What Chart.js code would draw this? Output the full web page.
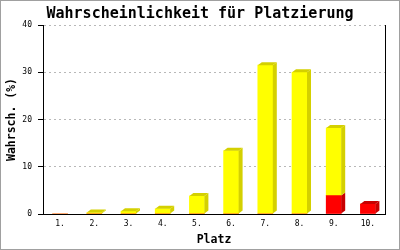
<!DOCTYPE html>
<html>
<head>
<meta charset="utf-8">
<script src="https://cdn.jsdelivr.net/npm/chart.js@4/dist/chart.umd.min.js"></script>
<style>
  html, body { margin: 0; padding: 0; background: #fff; }
</style>
</head>
<body>
<canvas id="chart" width="400" height="250"></canvas>
<script>
// Werte (Prozent)
const places = ['1.', '2.', '3.', '4.', '5.', '6.', '7.', '8.', '9.', '10.'];
const redPart = [0, 0, 0, 0, 0, 0, 0, 0, 3.9, 2.1];
const yellowPart = [0, 0.3, 0.6, 1.1, 3.8, 13.4, 31.5, 30.0, 14.3, 0];
const yTicks = [0, 10, 20, 30, 40];

const mono = 'DejaVu Sans Mono';
const depthX = 4, depthY = 3;

// 3D-Seiten und Deckflaechen an die Balken zeichnen
const extrude = {
    id: 'extrude',
    afterDatasetsDraw (chart) {
        let ctx = chart.ctx;
        let metas = chart.getSortedVisibleDatasetMetas();
        let n = chart.data.labels.length;

        for (let i = 0; i < n; i++) {
            let topIdx = -1;
            metas.forEach((meta, k) => {
                if (chart.data.datasets[meta.index].data[i] > 0) topIdx = k;
            });

            metas.forEach((meta, k) => {
                let ds = chart.data.datasets[meta.index];
                if (!(ds.data[i] > 0)) return;
                let bar = meta.data[i];
                let left = bar.x - bar.width / 2;
                let right = bar.x + bar.width / 2;
                let top = Math.min(bar.y, bar.base);
                let bottom = Math.max(bar.y, bar.base);

                ctx.save();
                ctx.fillStyle = ds.sideColor;
                ctx.beginPath();
                ctx.moveTo(right, top);
                ctx.lineTo(right + depthX, top - depthY);
                ctx.lineTo(right + depthX, bottom - depthY);
                ctx.lineTo(right, bottom);
                ctx.closePath();
                ctx.fill();

                if (k === topIdx) {
                    ctx.beginPath();
                    ctx.moveTo(left, top);
                    ctx.lineTo(left + depthX, top - depthY);
                    ctx.lineTo(right + depthX, top - depthY);
                    ctx.lineTo(right, top);
                    ctx.closePath();
                    ctx.fill();
                }
                ctx.restore();
            });
        }
    },
    afterDraw (chart) {
        let ctx = chart.ctx;
        let area = chart.chartArea;
        ctx.save();
        // rechter Rahmen
        ctx.strokeStyle = '#000';
        ctx.lineWidth = 1;
        ctx.beginPath();
        ctx.moveTo(Math.round(area.right) + 0.5, area.top);
        ctx.lineTo(Math.round(area.right) + 0.5, area.bottom + 0.5);
        ctx.stroke();
        // grauer Bildrand
        ctx.strokeStyle = '#a0a0a0';
        ctx.strokeRect(0.5, 0.5, chart.width - 1, chart.height - 1);
        ctx.restore();
    }
};

let chart = new Chart(document.getElementById('chart'), {
    type: 'bar',
    data: {
        labels: places,
        datasets: [
            {
                label: 'rot',
                data: redPart,
                backgroundColor: '#ff0000',
                sideColor: '#c80000',
                borderWidth: 0
            },
            {
                label: 'gelb',
                data: yellowPart,
                backgroundColor: '#ffff00',
                sideColor: '#d4d000',
                borderWidth: 0
            }
        ]
    },
    options: {
        responsive: false,
        animation: false,
        barThickness: 15,
        layout: {
            padding: 0
        },
        plugins: {
            legend: { display: false },
            tooltip: { enabled: false },
            title: {
                display: true,
                text: 'Wahrscheinlichkeit für Platzierung',
                color: '#000',
                font: { family: mono, size: 15, weight: 'bold' },
                padding: { top: 5, bottom: 2 }
            }
        },
        scales: {
            x: {
                stacked: true,
                grid: { display: false, drawTicks: false },
                border: { display: true, color: '#000', width: 1 },
                ticks: {
                    color: '#000',
                    font: { family: mono, size: 8 },
                    padding: 5,
                    maxRotation: 0,
                    autoSkip: false
                },
                title: {
                    display: true,
                    text: 'Platz',
                    color: '#000',
                    font: { family: mono, size: 11.5, weight: 'bold' },
                    padding: { top: 0, bottom: 3 }
                },
                afterFit: (scale) => { scale.height = 36; }
            },
            y: {
                stacked: true,
                min: yTicks[0],
                max: yTicks[yTicks.length - 1],
                afterBuildTicks: (scale) => { scale.ticks = yTicks.map(v => ({ value: v })); },
                grid: {
                    color: (c) => c.tick && c.tick.value === 0 ? 'rgba(0,0,0,0)' : '#b8b8b8',
                    tickColor: '#000',
                    tickLength: 5,
                    lineWidth: 1
                },
                border: { display: true, color: '#000', width: 1, dash: [2, 3] },
                ticks: {
                    color: '#000',
                    font: { family: mono, size: 8 },
                    padding: 6
                },
                title: {
                    display: true,
                    text: 'Wahrsch. (%)',
                    color: '#000',
                    font: { family: mono, size: 11.5, weight: 'bold' },
                    padding: { top: 5, bottom: 0 }
                },
                afterFit: (scale) => { scale.width = 43; }
            },
            // leerer Rand rechts, damit der Titel mittig ueber dem ganzen Bild steht
            yRight: {
                position: 'right',
                display: true,
                grid: { display: false, drawTicks: false },
                border: { display: false },
                ticks: { display: false },
                afterFit: (scale) => { scale.width = 15; }
            }
        }
    },
    plugins: [extrude]
});
</script>
</body>
</html>
